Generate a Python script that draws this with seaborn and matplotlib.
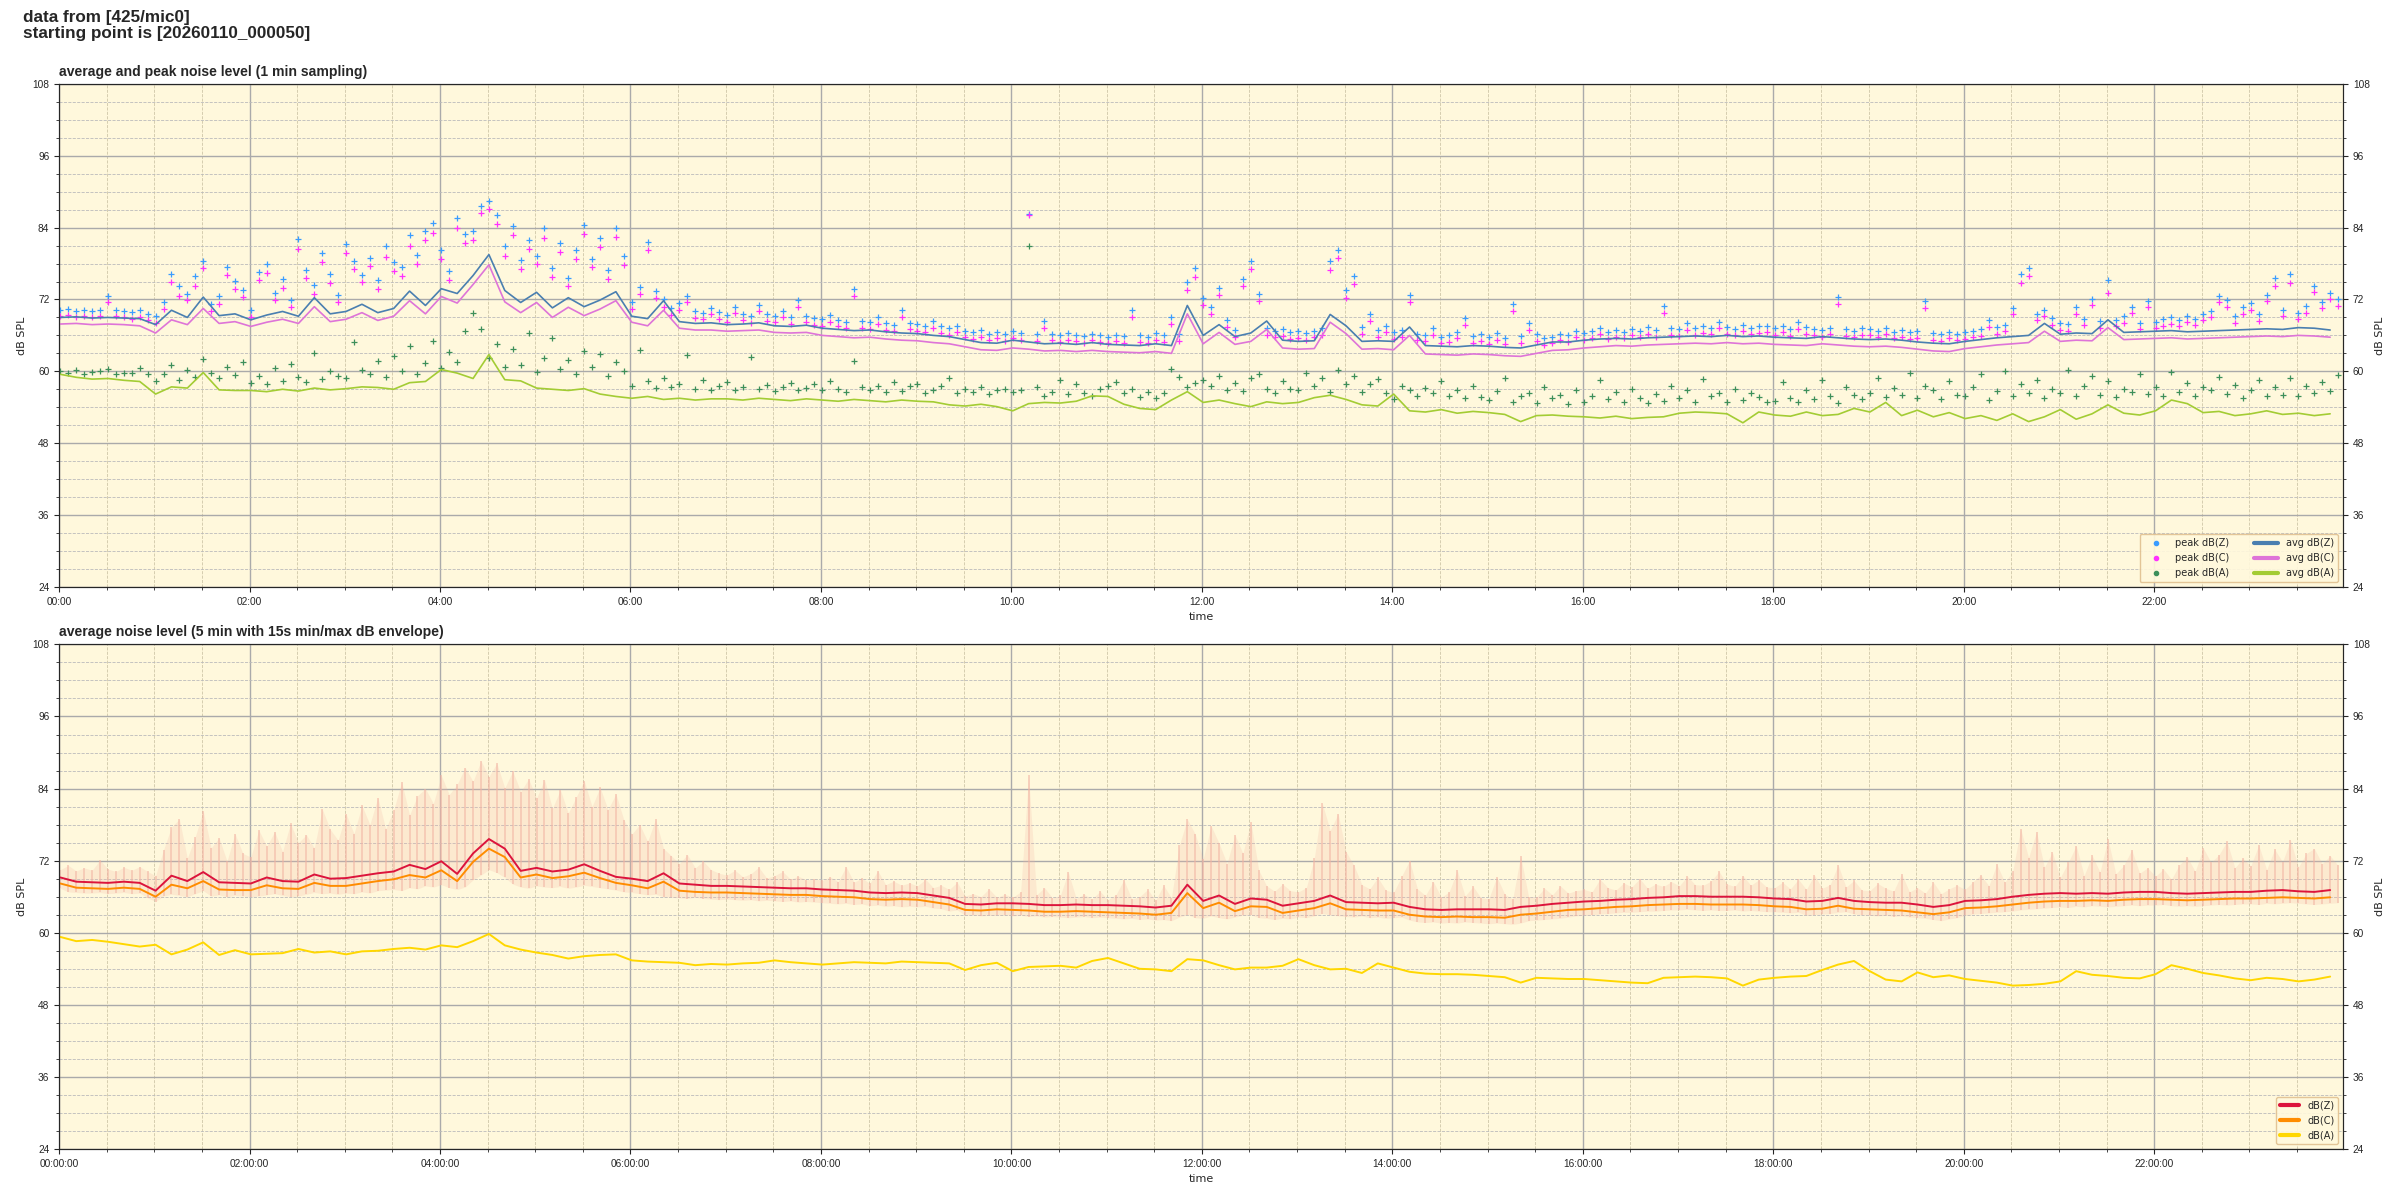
import matplotlib
matplotlib.use("Agg")
import matplotlib.pyplot as plt
import matplotlib.dates as mdates
from matplotlib.lines import Line2D
import pandas as pd
import seaborn as sns

# sampling start of the recording
start = pd.Timestamp("2026-01-10 00:00:50")
day = pd.Timestamp("2026-01-10 00:00:00")

# ---- top panel: 1 min averages (read every 10 min) ----
avg_z = [
    69.0, 69.1, 68.9, 69.0, 68.9, 68.8,
    67.8, 70.2, 69.0, 72.4, 69.3, 69.6,
    68.6, 69.4, 70.0, 69.2, 72.3, 69.6,
    70.0, 71.2, 69.8, 70.5, 73.4, 71.0,
    73.8, 73.0, 76.0, 79.5, 73.5, 71.5,
    73.2, 70.6, 72.3, 70.8, 71.9, 73.3,
    69.2, 68.8, 71.8, 68.3, 68.0, 68.1,
    67.8, 67.9, 68.1, 67.6, 67.5, 67.7,
    67.2, 67.0, 66.8, 66.9, 66.6, 66.4,
    66.3, 66.0, 65.8, 65.3, 64.8, 64.7,
    65.2, 64.9, 64.6, 64.7, 64.5, 64.8,
    64.5, 64.4, 64.3, 64.6, 64.3, 71.0,
    66.0, 67.8, 65.8, 66.4, 68.4, 65.2,
    65.0, 65.1, 69.5, 67.6, 65.0, 65.1,
    65.0, 67.4, 64.3, 64.2, 64.1, 64.3,
    64.2, 64.0, 63.9, 64.4, 64.9, 64.9,
    65.2, 65.4, 65.5, 65.4, 65.6, 65.7,
    65.8, 65.9, 65.8, 66.0, 65.8, 65.9,
    65.7, 65.6, 65.5, 65.8, 65.6, 65.4,
    65.3, 65.4, 65.2, 64.9, 64.7, 64.6,
    65.0, 65.3, 65.6, 65.8, 66.0, 68.0,
    66.2, 66.4, 66.3, 68.6, 66.5, 66.6,
    66.7, 66.8, 66.6, 66.7, 66.8, 66.9,
    67.0, 67.1, 67.0, 67.3, 67.2, 66.9,
]
avg_c = [
    67.9, 68.0, 67.8, 67.9, 67.8, 67.6,
    66.4, 68.6, 67.8, 70.5, 68.0, 68.3,
    67.5, 68.2, 68.7, 68.0, 70.8, 68.3,
    68.7, 69.8, 68.5, 69.2, 71.8, 69.6,
    72.5, 71.4, 74.5, 77.8, 71.6, 69.8,
    71.5, 69.0, 70.7, 69.3, 70.4, 71.8,
    68.2, 67.6, 70.2, 67.2, 66.9, 66.9,
    66.7, 66.8, 66.9, 66.5, 66.4, 66.5,
    66.0, 65.8, 65.6, 65.7, 65.4, 65.2,
    65.1, 64.8, 64.6, 64.1, 63.6, 63.5,
    63.9, 63.7, 63.4, 63.5, 63.3, 63.5,
    63.3, 63.2, 63.1, 63.3, 63.0, 69.6,
    64.6, 66.5, 64.5, 65.0, 67.0, 63.9,
    63.7, 63.8, 68.2, 66.3, 63.7, 63.8,
    63.6, 66.0, 62.9, 62.8, 62.7, 62.9,
    62.8, 62.6, 62.5, 63.0, 63.5, 63.6,
    63.9, 64.1, 64.3, 64.2, 64.4, 64.5,
    64.6, 64.7, 64.6, 64.8, 64.6, 64.7,
    64.5, 64.4, 64.3, 64.6, 64.4, 64.2,
    64.1, 64.2, 64.0, 63.7, 63.4, 63.3,
    63.8, 64.1, 64.4, 64.6, 64.8, 66.7,
    65.0, 65.2, 65.1, 67.3, 65.3, 65.4,
    65.5, 65.6, 65.4, 65.5, 65.6, 65.7,
    65.8, 65.9, 65.8, 66.0, 65.9, 65.7,
]
avg_a = [
    59.5, 59.0, 58.7, 58.8, 58.5, 58.3,
    56.2, 57.4, 57.2, 59.8, 56.9, 56.8,
    56.8, 56.6, 57.0, 56.7, 57.2, 56.9,
    57.1, 57.4, 57.3, 57.0, 58.1, 58.3,
    60.3, 59.7, 58.8, 62.8, 58.6, 58.4,
    57.2, 57.0, 56.8, 57.1, 56.2, 55.8,
    55.5, 55.8, 55.3, 55.5, 55.2, 55.4,
    55.4, 55.2, 55.5, 55.3, 55.1, 55.4,
    55.2, 55.0, 55.3, 55.1, 54.9, 55.2,
    55.0, 54.9, 54.4, 54.2, 54.5, 54.1,
    53.4, 54.6, 54.8, 54.7, 55.0, 55.9,
    55.8, 54.5, 53.8, 53.6, 55.2, 56.6,
    54.8, 55.2, 54.6, 54.1, 54.9, 54.6,
    54.8, 55.6, 56.0, 55.3, 54.4, 54.2,
    56.2, 53.4, 53.2, 53.6, 53.0, 53.3,
    53.1, 52.8, 51.6, 52.6, 52.7, 52.5,
    52.4, 52.2, 52.5, 52.1, 52.3, 52.4,
    53.0, 53.2, 53.1, 52.9, 51.4, 53.2,
    52.7, 52.5, 53.2, 52.6, 52.8, 53.8,
    53.2, 54.8, 52.6, 53.5, 52.4, 53.1,
    52.1, 52.6, 51.8, 52.9, 51.6, 52.4,
    53.6, 52.0, 52.9, 54.4, 53.0, 52.7,
    53.4, 55.2, 54.6, 53.1, 53.3, 52.6,
    52.9, 53.4, 52.8, 53.0, 52.6, 52.9,
]

# ---- top panel: peaks (read every 5 min) ----
peak_z = [
    70.2, 70.4, 70.1, 70.3, 70.0, 70.2, 72.5, 70.3, 70.1, 69.9, 70.2, 69.6,
    69.2, 71.5, 76.3, 74.2, 73.0, 75.9, 78.4, 71.2, 72.5, 77.5, 75.1, 73.6,
    70.3, 76.6, 78.0, 73.1, 75.5, 71.9, 82.1, 77.0, 74.5, 79.8, 76.2, 72.8,
    81.3, 78.5, 76.1, 79.0, 75.2, 80.9, 78.2, 77.4, 82.7, 79.5, 83.5, 84.8,
    80.2, 76.8, 85.6, 82.9, 83.4, 87.7, 88.5, 86.1, 80.9, 84.3, 78.6, 82.0,
    79.3, 83.9, 77.2, 81.4, 75.6, 80.2, 84.5, 78.8, 82.3, 76.9, 84.0, 79.2,
    71.6, 74.1, 81.6, 73.5, 72.0, 70.5, 71.4, 72.6, 70.0, 69.8, 70.6, 69.9,
    69.4, 70.8, 69.6, 69.2, 71.1, 69.5, 69.3, 70.1, 69.0, 71.9, 69.3, 68.9,
    68.7, 69.4, 68.6, 68.3, 73.8, 68.4, 68.2, 69.0, 68.0, 67.8, 70.2, 68.1,
    67.9, 67.6, 68.4, 67.5, 67.2, 67.6, 66.8, 66.5, 66.9, 66.3, 66.6, 66.2,
    66.7, 66.4, 86.2, 66.2, 68.4, 66.3, 66.0, 66.4, 66.1, 65.9, 66.3, 66.0,
    65.8, 66.1, 65.9, 70.2, 66.0, 65.8, 66.4, 66.0, 69.0, 66.2, 75.0, 77.3,
    72.2, 70.8, 74.0, 68.6, 66.9, 75.5, 78.5, 73.0, 67.2, 66.8, 67.0, 66.5,
    66.7, 66.4, 66.8, 67.2, 78.4, 80.3, 73.6, 76.0, 67.4, 69.5, 66.9, 67.6,
    66.5, 66.9, 72.8, 66.3, 66.1, 67.2, 65.8, 66.0, 66.6, 68.9, 65.9, 66.2,
    65.7, 66.4, 65.6, 71.2, 65.9, 68.0, 66.2, 65.5, 65.8, 66.3, 66.0, 66.8,
    66.4, 66.7, 67.3, 66.5, 66.9, 66.6, 67.1, 66.8, 67.4, 66.9, 70.9, 67.2,
    67.0, 68.0, 67.2, 67.5, 67.3, 68.3, 67.4, 67.1, 67.8, 67.3, 67.5, 67.6,
    67.2, 67.6, 67.0, 68.2, 67.4, 67.1, 66.9, 67.3, 72.4, 67.0, 66.8, 67.2,
    67.1, 66.8, 67.3, 66.6, 66.9, 66.5, 66.7, 71.8, 66.4, 66.2, 66.6, 66.3,
    66.5, 66.8, 67.0, 68.5, 67.4, 67.8, 70.6, 76.2, 77.3, 69.6, 70.3, 68.9,
    68.0, 67.9, 70.7, 68.8, 72.1, 68.4, 75.3, 68.6, 69.2, 70.8, 68.1, 71.8,
    68.3, 68.7, 69.0, 68.6, 69.3, 68.8, 69.6, 70.1, 72.6, 71.9, 69.2, 70.7,
    71.4, 69.5, 72.8, 75.6, 70.3, 76.2, 69.8, 70.9, 74.3, 71.6, 73.1, 72.0,
]
peak_c = [
    69.3, 69.4, 69.1, 69.2, 69.0, 69.3, 71.6, 69.2, 69.0, 68.8, 69.1, 68.5,
    68.1, 70.4, 75.0, 72.6, 71.9, 74.3, 77.2, 70.0, 71.2, 76.1, 73.8, 72.4,
    69.1, 75.2, 76.5, 71.9, 74.0, 70.7, 80.4, 75.6, 73.0, 78.2, 74.8, 71.5,
    79.8, 77.1, 74.9, 77.6, 73.8, 79.1, 76.8, 76.0, 81.0, 78.0, 82.0, 83.1,
    78.7, 75.2, 84.0, 81.4, 81.9, 86.4, 87.2, 84.6, 79.3, 82.8, 77.1, 80.5,
    77.9, 82.2, 75.8, 80.0, 74.3, 78.7, 83.0, 77.4, 80.8, 75.5, 82.4, 77.8,
    70.4, 72.9, 80.2, 72.3, 70.8, 69.4, 70.3, 71.5, 68.9, 68.7, 69.5, 68.8,
    68.3, 69.7, 68.5, 68.1, 70.0, 68.4, 68.2, 69.0, 67.9, 70.8, 68.2, 67.8,
    67.6, 68.3, 67.5, 67.2, 72.6, 67.3, 67.1, 67.9, 66.9, 66.7, 69.1, 67.0,
    66.8, 66.5, 67.3, 66.4, 66.1, 66.5, 65.7, 65.4, 65.8, 65.2, 65.5, 65.1,
    65.6, 65.3, 86.1, 65.1, 67.3, 65.2, 64.9, 65.3, 65.0, 64.8, 65.2, 64.9,
    64.7, 65.0, 64.8, 69.0, 64.9, 64.7, 65.3, 64.9, 67.9, 65.1, 73.6, 75.8,
    71.0, 69.6, 72.7, 67.4, 65.8, 74.2, 77.1, 71.8, 66.1, 65.7, 65.9, 65.4,
    65.6, 65.3, 65.7, 66.1, 77.0, 78.9, 72.3, 74.6, 66.3, 68.4, 65.8, 66.5,
    65.4, 65.8, 71.5, 65.2, 65.0, 66.1, 64.7, 64.9, 65.5, 67.8, 64.8, 65.1,
    64.6, 65.3, 64.5, 70.0, 64.8, 66.9, 65.1, 64.4, 64.7, 65.2, 64.9, 65.7,
    65.3, 65.6, 66.2, 65.4, 65.8, 65.5, 66.0, 65.7, 66.3, 65.8, 69.8, 66.1,
    65.9, 66.9, 66.1, 66.4, 66.2, 67.2, 66.3, 66.0, 66.7, 66.2, 66.4, 66.5,
    66.1, 66.5, 65.9, 67.1, 66.3, 66.0, 65.8, 66.2, 71.3, 65.9, 65.7, 66.1,
    66.0, 65.7, 66.2, 65.5, 65.8, 65.4, 65.6, 70.6, 65.3, 65.1, 65.5, 65.2,
    65.4, 65.7, 65.9, 67.4, 66.3, 66.7, 69.5, 74.8, 75.9, 68.5, 69.2, 67.8,
    66.9, 66.8, 69.6, 67.7, 71.0, 67.3, 73.1, 67.5, 68.1, 69.7, 67.0, 70.7,
    67.2, 67.6, 67.9, 67.5, 68.2, 67.7, 68.5, 69.0, 71.5, 70.8, 68.1, 69.6,
    70.3, 68.4, 71.7, 74.2, 69.2, 74.8, 68.7, 69.8, 73.2, 70.5, 72.0, 70.9,
]
peak_a = [
    60.1, 59.8, 60.3, 59.6, 59.9, 60.0, 60.4, 59.5, 59.7, 59.8, 60.6, 59.6,
    58.3, 59.5, 61.0, 58.6, 60.2, 59.1, 62.0, 59.8, 58.9, 60.7, 59.4, 61.5,
    58.1, 59.3, 57.9, 60.5, 58.4, 61.3, 59.0, 58.2, 63.0, 58.7, 60.0, 59.2,
    58.9, 64.9, 60.3, 59.5, 61.8, 59.0, 62.6, 60.1, 64.2, 59.6, 61.4, 65.0,
    60.6, 63.3, 61.5, 66.8, 69.8, 67.0, 62.2, 64.6, 60.8, 63.7, 61.1, 66.4,
    59.9, 62.3, 65.5, 60.4, 61.9, 59.5, 63.4, 60.7, 62.9, 59.3, 61.6, 60.1,
    57.6, 63.6, 58.3, 57.2, 58.8, 57.4, 57.9, 62.8, 57.1, 58.5, 56.9, 57.6,
    58.2, 56.8, 57.3, 62.4, 57.0, 57.7, 56.7, 57.4, 58.0, 56.9, 57.2, 57.8,
    56.8, 58.4, 57.1, 56.6, 61.8, 57.3, 56.9, 57.6, 56.5, 58.2, 56.7, 57.5,
    57.9, 56.4, 56.9, 57.6, 58.8, 56.3, 57.0, 56.6, 57.3, 56.2, 56.8, 57.1,
    56.5, 56.9, 80.9, 57.4, 55.9, 56.6, 58.5, 56.2, 57.8, 56.4, 55.8, 57.0,
    57.6, 58.2, 56.3, 57.0, 55.7, 56.6, 55.5, 56.4, 60.4, 59.1, 57.3, 58.0,
    58.6, 57.5, 59.2, 56.9, 58.0, 56.7, 58.8, 59.5, 57.1, 56.4, 58.3, 57.0,
    56.8, 59.7, 57.5, 58.9, 56.5, 60.3, 57.8, 59.2, 56.6, 57.9, 58.7, 56.4,
    55.4, 57.6, 56.8, 55.9, 57.2, 56.3, 58.4, 55.8, 56.9, 55.6, 57.5, 55.7,
    55.2, 56.7, 58.9, 54.9, 55.8, 56.4, 54.7, 57.3, 55.5, 56.1, 54.6, 56.9,
    54.8, 55.9, 58.5, 55.3, 56.6, 54.9, 57.1, 55.6, 54.7, 56.2, 55.0, 57.6,
    55.5, 56.8, 54.9, 58.7, 55.8, 56.4, 54.8, 57.0, 55.2, 56.3, 55.7, 54.9,
    55.1, 58.2, 55.6, 54.8, 56.9, 55.3, 58.6, 55.9, 54.7, 57.3, 56.0, 55.4,
    56.4, 58.9, 55.7, 57.2, 56.1, 59.8, 55.5, 57.6, 56.8, 55.3, 58.3, 56.0,
    55.9, 57.4, 59.6, 55.2, 56.7, 60.1, 55.8, 57.9, 56.3, 58.5, 55.6, 57.1,
    56.4, 60.3, 55.9, 57.5, 59.2, 56.0, 58.4, 55.7, 57.0, 56.6, 59.5, 56.2,
    57.3, 55.8, 59.9, 56.5, 58.1, 55.9, 57.4, 56.8, 59.0, 56.2, 57.7, 55.6,
    56.9, 58.6, 55.8, 57.3, 56.1, 58.9, 55.9, 57.5, 56.4, 58.2, 56.7, 59.4,
]

# ---- bottom panel: 5 min averages (read every 10 min) ----
lvl_z = [
    69.2, 68.5, 68.4, 68.3, 68.5, 68.3,
    67.0, 69.5, 68.6, 70.1, 68.4, 68.3,
    68.2, 69.2, 68.6, 68.5, 69.7, 69.0,
    69.1, 69.5, 69.9, 70.2, 71.3, 70.6,
    71.9, 69.8, 73.2, 75.6, 74.0, 70.3,
    70.8, 70.2, 70.5, 71.4, 70.3, 69.3,
    69.0, 68.6, 69.9, 68.2, 68.0, 67.8,
    67.8, 67.7, 67.6, 67.5, 67.4, 67.4,
    67.2, 67.1, 67.0, 66.7, 66.6, 66.7,
    66.6, 66.2, 65.8, 64.8, 64.7, 64.9,
    64.9, 64.8, 64.6, 64.6, 64.7, 64.6,
    64.6, 64.5, 64.4, 64.2, 64.5, 68.0,
    65.3, 66.2, 64.8, 65.7, 65.5, 64.5,
    64.9, 65.3, 66.2, 65.1, 65.0, 64.9,
    65.0, 64.3, 63.9, 63.8, 63.9, 63.9,
    63.9, 63.8, 64.3, 64.5, 64.8, 65.0,
    65.2, 65.3, 65.5, 65.6, 65.8, 65.9,
    66.1, 66.1, 66.0, 66.0, 66.0, 65.9,
    65.7, 65.6, 65.2, 65.3, 65.8, 65.3,
    65.1, 65.0, 65.0, 64.7, 64.3, 64.6,
    65.3, 65.4, 65.6, 66.0, 66.3, 66.5,
    66.6, 66.5, 66.6, 66.5, 66.7, 66.8,
    66.8, 66.6, 66.5, 66.6, 66.7, 66.8,
    66.8, 67.0, 67.1, 66.9, 66.8, 67.1,
]
lvl_c = [
    68.2, 67.5, 67.4, 67.3, 67.5, 67.3,
    66.0, 68.0, 67.4, 68.6, 67.2, 67.1,
    67.1, 67.9, 67.4, 67.3, 68.3, 67.8,
    67.8, 68.2, 68.6, 68.9, 69.6, 69.2,
    70.4, 68.6, 71.8, 74.0, 72.6, 69.2,
    69.7, 69.1, 69.4, 70.0, 69.1, 68.3,
    67.9, 67.4, 68.5, 67.0, 66.8, 66.7,
    66.7, 66.6, 66.5, 66.4, 66.3, 66.3,
    66.1, 66.0, 65.9, 65.6, 65.5, 65.6,
    65.5, 65.1, 64.7, 63.8, 63.7, 63.9,
    63.8, 63.7, 63.5, 63.5, 63.6, 63.5,
    63.4, 63.3, 63.2, 63.0, 63.3, 66.6,
    64.1, 65.0, 63.6, 64.4, 64.3, 63.3,
    63.7, 64.1, 64.9, 63.9, 63.8, 63.7,
    63.7, 63.0, 62.7, 62.6, 62.7, 62.6,
    62.6, 62.5, 63.0, 63.2, 63.5, 63.8,
    63.9, 64.1, 64.3, 64.4, 64.6, 64.7,
    64.8, 64.8, 64.7, 64.7, 64.7, 64.6,
    64.4, 64.3, 63.9, 64.0, 64.5, 64.0,
    63.9, 63.8, 63.7, 63.4, 63.1, 63.4,
    64.1, 64.2, 64.4, 64.7, 65.0, 65.2,
    65.3, 65.3, 65.4, 65.3, 65.5, 65.6,
    65.6, 65.5, 65.4, 65.5, 65.6, 65.7,
    65.7, 65.8, 65.9, 65.8, 65.7, 65.9,
]
lvl_a = [
    59.3, 58.6, 58.8, 58.5, 58.1, 57.7,
    58.0, 56.4, 57.2, 58.4, 56.3, 57.1,
    56.4, 56.5, 56.6, 57.3, 56.7, 56.9,
    56.4, 56.9, 57.0, 57.3, 57.5, 57.2,
    57.9, 57.6, 58.6, 59.8, 57.9, 57.2,
    56.7, 56.3, 55.7, 56.1, 56.3, 56.4,
    55.4, 55.2, 55.1, 55.0, 54.6, 54.8,
    54.7, 54.9, 55.0, 55.4, 55.1, 54.9,
    54.7, 54.9, 55.1, 55.0, 54.9, 55.2,
    55.1, 55.0, 54.9, 53.8, 54.6, 55.0,
    53.6, 54.3, 54.4, 54.5, 54.2, 55.3,
    55.8, 54.9, 54.0, 53.9, 53.6, 55.6,
    55.4, 54.6, 53.9, 54.2, 54.2, 54.5,
    55.6, 54.6, 53.9, 54.0, 53.3, 54.9,
    54.2, 53.5, 53.2, 53.1, 53.1, 53.0,
    52.8, 52.6, 51.7, 52.5, 52.4, 52.3,
    52.3, 52.1, 51.9, 51.7, 51.6, 52.5,
    52.6, 52.7, 52.6, 52.4, 51.2, 52.2,
    52.5, 52.7, 52.8, 53.8, 54.7, 55.3,
    53.6, 52.2, 51.9, 53.4, 52.6, 52.9,
    52.3, 52.0, 51.7, 51.2, 51.3, 51.5,
    51.9, 53.6, 53.0, 52.8, 52.5, 52.4,
    53.1, 54.6, 54.0, 53.3, 52.9, 52.4,
    52.1, 52.5, 52.3, 51.9, 52.2, 52.7,
]

# ---- bottom panel: 15 s min/max envelope (read every 5 min) ----
env_hi = [
    70.5, 71.2, 70.3, 70.8, 70.4, 72.1, 70.6, 70.2, 70.9, 70.4, 71.0, 70.2,
    69.5, 73.8, 77.6, 78.9, 72.4, 76.0, 80.3, 74.1, 75.8, 71.9, 76.5, 73.2,
    72.6, 77.1, 74.4, 76.8, 73.5, 78.2, 75.0, 76.3, 74.1, 80.6, 77.2, 75.4,
    79.8, 76.5, 81.2, 78.0, 82.5, 77.3, 80.4, 85.1, 79.6, 82.8, 84.0, 81.5,
    86.2, 83.0, 84.7, 87.5, 85.2, 88.6, 86.0, 88.2, 84.1, 86.9, 83.5, 85.6,
    82.4, 85.5, 80.7, 83.8, 79.9, 82.6, 85.3, 81.0, 84.2, 80.5, 83.1, 78.8,
    76.4, 78.0, 75.2, 78.9, 74.0, 72.8, 71.5, 73.0, 70.8, 71.9, 70.5, 69.9,
    69.6, 70.4, 69.3, 69.8, 70.9, 69.1, 69.5, 70.2, 68.9, 69.4, 68.8, 69.0,
    68.7, 69.3, 68.5, 71.0, 68.4, 69.1, 68.2, 70.3, 68.0, 68.6, 67.9, 68.3,
    67.8, 68.9, 67.5, 67.9, 67.2, 68.4, 66.1, 66.5, 66.0, 67.3, 65.9, 66.4,
    65.9, 66.8, 86.2, 66.3, 67.5, 65.8, 66.2, 70.1, 65.7, 66.4, 65.6, 66.9,
    65.5, 66.3, 68.8, 65.6, 66.0, 67.2, 65.4, 67.9, 65.8, 74.6, 78.9, 76.4,
    72.3, 77.8, 74.9, 71.5, 76.3, 73.2, 78.5, 70.4, 67.8, 66.9, 68.1, 67.0,
    66.8, 67.5, 72.4, 81.6, 77.0, 79.8, 73.5, 71.2, 68.0, 67.3, 69.2, 67.1,
    66.7, 69.4, 72.0, 67.3, 66.2, 68.5, 65.9, 66.8, 70.4, 66.1, 67.7, 65.8,
    65.7, 69.3, 66.4, 65.6, 72.8, 66.0, 65.9, 67.4, 66.3, 67.8, 66.6, 67.0,
    67.2, 66.8, 68.9, 67.5, 67.1, 68.3, 67.6, 69.0, 67.4, 68.1, 67.7, 68.5,
    67.8, 69.4, 68.0, 67.9, 68.6, 70.2, 68.1, 67.7, 69.5, 67.9, 68.8, 67.6,
    67.5, 68.4, 67.3, 68.9, 67.2, 69.6, 67.4, 68.0, 71.3, 67.6, 68.7, 67.1,
    67.0, 68.2, 67.4, 66.9, 69.8, 66.8, 67.5, 66.6, 68.4, 66.5, 67.3, 67.9,
    67.2, 68.5, 69.6, 67.8, 71.4, 68.4, 70.2, 77.3, 72.5, 76.8, 70.9, 73.4,
    69.2, 71.7, 74.5, 69.5, 72.9, 70.1, 75.6, 69.8, 71.2, 73.8, 69.9, 70.8,
    69.4, 70.6, 68.9, 71.3, 72.6, 70.2, 74.1, 71.7, 73.0, 75.2, 70.8, 72.4,
    71.1, 74.6, 70.5, 73.9, 71.8, 75.4, 70.9, 73.2, 74.0, 71.5, 72.8, 71.2,
]
env_lo = [
    67.4, 66.8, 66.7, 66.6, 66.6, 66.7, 66.5, 66.6, 66.7, 66.5, 66.6, 65.8,
    65.2, 66.1, 66.4, 66.2, 66.0, 66.5, 67.0, 66.1, 66.3, 66.0, 66.2, 66.1,
    66.0, 66.1, 66.3, 66.5, 66.2, 66.0, 66.1, 66.4, 66.7, 66.5, 66.6, 66.4,
    66.6, 66.5, 66.8, 66.6, 67.0, 67.1, 67.2, 67.0, 67.5, 67.3, 67.8, 67.6,
    68.0, 67.5, 67.2, 67.6, 68.8, 69.6, 70.5, 70.0, 69.2, 68.1, 67.6, 67.4,
    67.8, 67.6, 67.5, 67.7, 67.4, 67.6, 67.9, 67.7, 67.5, 67.3, 67.1, 66.8,
    66.7, 66.5, 66.3, 66.4, 66.0, 65.9, 65.8, 65.7, 65.9, 65.7, 65.6, 65.5,
    65.6, 65.5, 65.4, 65.5, 65.3, 65.4, 65.3, 65.2, 65.3, 65.1, 65.2, 65.1,
    65.0, 64.9, 64.8, 64.9, 64.7, 64.8, 64.5, 64.6, 64.4, 64.5, 64.3, 64.4,
    64.3, 64.4, 64.1, 64.0, 63.6, 63.8, 62.9, 63.0, 62.8, 62.9, 62.9, 63.0,
    62.8, 62.9, 62.7, 62.8, 62.6, 62.7, 62.6, 62.5, 62.6, 62.7, 62.5, 62.6,
    62.5, 62.4, 62.3, 62.4, 62.2, 62.3, 62.1, 62.2, 62.0, 62.6, 63.0, 62.5,
    62.4, 62.8, 62.5, 62.3, 62.6, 62.9, 63.0, 62.5, 62.4, 62.2, 62.4, 62.3,
    62.6, 62.5, 62.8, 63.2, 63.0, 62.8, 62.7, 62.6, 62.8, 62.5, 62.6, 62.4,
    62.5, 62.6, 62.1, 61.8, 61.7, 61.8, 61.6, 61.7, 61.6, 61.8, 61.7, 61.6,
    61.5, 61.6, 61.5, 61.4, 61.6, 62.0, 62.1, 62.2, 62.3, 62.4, 62.6, 62.8,
    62.9, 63.0, 63.1, 63.2, 63.3, 63.4, 63.4, 63.5, 63.6, 63.6, 63.7, 63.8,
    63.8, 63.9, 63.8, 63.7, 63.8, 63.7, 63.7, 63.8, 63.6, 63.7, 63.6, 63.5,
    63.5, 63.4, 63.3, 63.4, 62.9, 63.0, 63.1, 63.2, 63.4, 63.5, 63.1, 63.0,
    62.9, 62.8, 62.9, 62.7, 62.8, 62.6, 62.5, 62.4, 62.2, 62.0, 62.3, 62.5,
    62.9, 63.1, 63.2, 63.3, 63.4, 63.5, 63.6, 63.8, 63.9, 64.0, 64.1, 64.2,
    64.3, 64.2, 64.4, 64.3, 64.5, 64.4, 64.3, 64.4, 64.5, 64.6, 64.5, 64.6,
    64.6, 64.7, 64.5, 64.4, 64.5, 64.4, 64.5, 64.6, 64.7, 64.6, 64.7, 64.8,
    64.8, 64.7, 64.9, 64.8, 64.9, 65.0, 64.9, 64.8, 64.7, 64.8, 64.9, 65.0,
]

t10 = pd.date_range(start, periods=len(avg_z), freq="10min")
t5 = pd.date_range(start, periods=len(peak_z), freq="5min")

sns.set_style("ticks")
plt.rcParams["font.family"] = ["Liberation Sans", "DejaVu Sans"]
PLAIN = {"family": "DejaVu Sans", "size": 8}

fig = plt.figure(figsize=(24, 12), dpi=100)
ax1 = fig.add_axes([0.0246, 0.511, 0.9517, 0.419])
ax2 = fig.add_axes([0.0246, 0.0425, 0.9517, 0.4205])

fig.text(0.0095, 0.992, "data from [425/mic0]\nstarting point is [20260110_000050]",
         va="top", ha="left", fontsize=12.3, fontweight="bold", linespacing=1.1)

BG = "#fff8dc"


def style_axes(ax, fmt, title):
    ax.set_facecolor(BG)
    ax.set_xlim(day, day + pd.Timedelta(hours=23, minutes=59))
    ax.set_ylim(24, 108)
    ax.set_yticks(range(24, 109, 12))
    ax.set_yticks(range(24, 109, 3), minor=True)
    ax.xaxis.set_major_locator(mdates.HourLocator(interval=2))
    ax.xaxis.set_minor_locator(mdates.MinuteLocator(byminute=[0, 30]))
    ax.xaxis.set_major_formatter(mdates.DateFormatter(fmt))
    ax.grid(which="major", color="#aaaaaa", lw=1.0)
    ax.grid(which="minor", axis="y", color="#bbbbbb", lw=0.6, ls="--")
    ax.grid(which="minor", axis="x", color="#cfc6a8", lw=0.6, ls="--")
    ax.set_axisbelow(True)
    ax.tick_params(labelsize=7.3)
    ax.set_xlabel("time", fontdict=PLAIN)
    ax.set_ylabel("dB SPL", fontdict=PLAIN)
    ax.set_title(title, loc="left", fontsize=10.1, fontweight="bold")
    tw = ax.twinx()
    tw.set_ylim(24, 108)
    tw.set_yticks(range(24, 109, 12))
    tw.set_yticks(range(24, 109, 3), minor=True)
    tw.tick_params(labelsize=7.3)
    tw.set_ylabel("dB SPL", fontdict=PLAIN)
    return tw


# top panel
sns.scatterplot(x=t5, y=peak_z, ax=ax1, marker="+", color="#3a9cff", s=14, linewidth=0.9, zorder=3)
sns.scatterplot(x=t5, y=peak_c, ax=ax1, marker="+", color="#ff30ff", s=14, linewidth=0.9, zorder=3)
sns.scatterplot(x=t5, y=peak_a, ax=ax1, marker="+", color="#3d8f5a", s=14, linewidth=0.9, zorder=3)
sns.lineplot(x=t10, y=avg_z, ax=ax1, color="#4a7fb0", lw=1.2, errorbar=None, zorder=4)
sns.lineplot(x=t10, y=avg_c, ax=ax1, color="#de74d8", lw=1.2, errorbar=None, zorder=4)
sns.lineplot(x=t10, y=avg_a, ax=ax1, color="#a3cc34", lw=1.2, errorbar=None, zorder=4)
style_axes(ax1, "%H:%M", "average and peak noise level (1 min sampling)")

handles = [
    Line2D([], [], ls="", marker="o", ms=3, color="#3a9cff"),
    Line2D([], [], ls="", marker="o", ms=3, color="#ff30ff"),
    Line2D([], [], ls="", marker="o", ms=3, color="#3d8f5a"),
    Line2D([], [], color="#4a7fb0", lw=3),
    Line2D([], [], color="#de74d8", lw=3),
    Line2D([], [], color="#a3cc34", lw=3),
]
labels = ["peak dB(Z)", "peak dB(C)", "peak dB(A)", "avg dB(Z)", "avg dB(C)", "avg dB(A)"]
ax1.legend(handles, labels, loc="lower right", ncol=2, prop={"family": "DejaVu Sans", "size": 7},
           facecolor=BG, edgecolor="#e0c090", framealpha=0.9, handlelength=2.5, columnspacing=2.5)

# bottom panel: min/max envelope as a light band with thin spikes, then the 5 min levels
ax2.fill_between(t5, env_lo, env_hi, color="#f4b4a4", alpha=0.22, lw=0, zorder=2)
ax2.vlines(t5, env_lo, env_hi, color="#f2b3a3", lw=1.4, alpha=0.55, zorder=2)
sns.lineplot(x=t10, y=lvl_z, ax=ax2, color="#dc143c", lw=1.4, errorbar=None, zorder=4)
sns.lineplot(x=t10, y=lvl_c, ax=ax2, color="#ff8c00", lw=1.4, errorbar=None, zorder=4)
sns.lineplot(x=t10, y=lvl_a, ax=ax2, color="#ffd700", lw=1.4, errorbar=None, zorder=4)
style_axes(ax2, "%H:%M:%S", "average noise level (5 min with 15s min/max dB envelope)")

handles2 = [Line2D([], [], color=c, lw=3) for c in ["#dc143c", "#ff8c00", "#ffd700"]]
ax2.legend(handles2, ["dB(Z)", "dB(C)", "dB(A)"], loc="lower right",
           prop={"family": "DejaVu Sans", "size": 7},
           facecolor=BG, edgecolor="#e0c090", framealpha=0.9)

fig.savefig("out.png", dpi=100)
